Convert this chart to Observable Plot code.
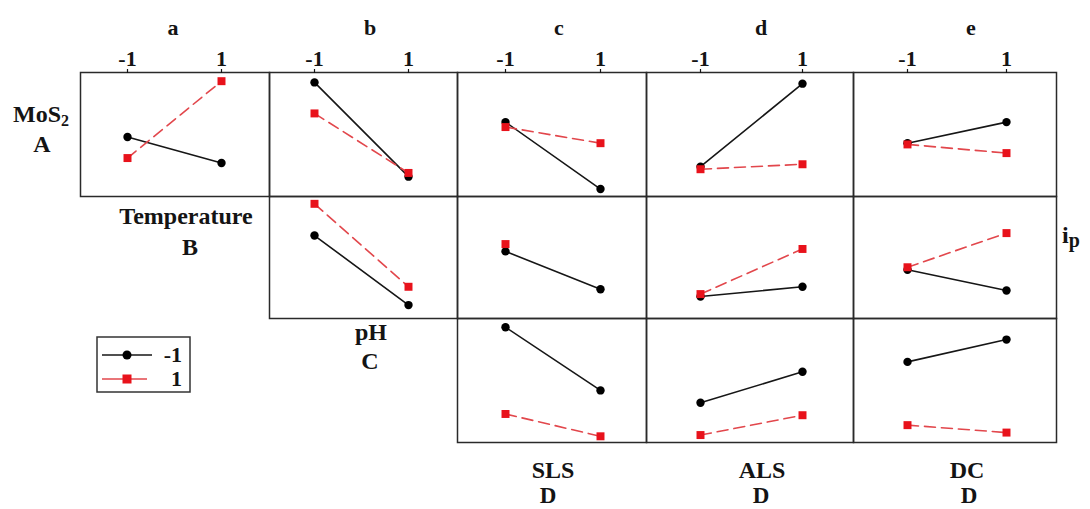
<!DOCTYPE html>
<html>
<head>
<meta charset="utf-8">
<script src="https://cdn.jsdelivr.net/npm/d3@7"></script>
<script src="https://cdn.jsdelivr.net/npm/@observablehq/plot@0.6"></script>
<style>
  html, body { margin: 0; padding: 0; background: #fff; }
  #chart { position: relative; width: 1090px; height: 509px; overflow: hidden; }
  #chart text { font-family: "Liberation Serif", "Times New Roman", serif; font-weight: bold; fill: #141414; }
</style>
</head>
<body>
<div id="chart"></div>
<script>
// Interaction plot matrix for the peak current ip.
// Each panel: x = factor level (-1, 1), one line per level of the row factor.

const factorLevels = [-1, 1];
const lineLevels = ["-1", "1"];

// Panel order: row factor (A, B, C) by column (a..e)
const panelRow = ["A", "A", "A", "A", "A", "B", "B", "B", "B", "C", "C", "C"];
const panelCol = ["a", "b", "c", "d", "e", "b", "c", "d", "e", "c", "d", "e"];

// Mean ip at x = -1 and x = 1, row factor held at -1
const lowLevelMeans = [
  [4.8, 2.7], [9.2, 1.6], [6.0, 0.6], [2.4, 9.1], [4.3, 6.0],
  [6.8, 1.1], [5.5, 2.4], [1.8, 2.6], [4.0, 2.3],
  [9.3, 4.2], [3.2, 5.7], [6.5, 8.3]
];
// Mean ip at x = -1 and x = 1, row factor held at 1
const highLevelMeans = [
  [3.1, 9.3], [6.7, 1.9], [5.6, 4.3], [2.2, 2.6], [4.2, 3.5],
  [9.4, 2.6], [6.1, null], [2.0, 5.7], [4.2, 7.0],
  [2.3, 0.5], [0.6, 2.2], [1.4, 0.8]
];

const columnTitles = ["a", "b", "c", "d", "e"];
const rowTitles = [["MoS", "2", "A"], ["Temperature", "", "B"], ["pH", "", "C"]];
const bottomTitles = [["SLS", "D"], ["ALS", "D"], ["DC", "D"]];
const responseName = ["i", "p"];

// Page geometry of the grid (pixels)
const colGeom = {
  a: {left: 80,  right: 269,  lo: 127, hi: 221},
  b: {left: 269, right: 457,  lo: 314, hi: 408},
  c: {left: 457, right: 646,  lo: 505, hi: 600},
  d: {left: 646, right: 853,  lo: 700, hi: 802},
  e: {left: 853, right: 1056, lo: 907, hi: 1006}
};
const rowGeom = {
  A: {top: 72,  bottom: 196},
  B: {top: 196, bottom: 318},
  C: {top: 318, bottom: 442}
};

const FONT = '"Liberation Serif", "Times New Roman", serif';
const BLACK = "#161616";
const RED_LINE = "#e2474c";
const RED_MARK = "#e8121b";

const chart = document.getElementById("chart");

panelRow.forEach((r, k) => {
  const c = panelCol[k];
  const cg = colGeom[c], rg = rowGeom[r];
  const w = cg.right - cg.left, h = rg.bottom - rg.top;
  const lowPts = factorLevels.map((x, i) => ({x, y: lowLevelMeans[k][i], level: lineLevels[0]}));
  const highPts = factorLevels.map((x, i) => ({x, y: highLevelMeans[k][i], level: lineLevels[1]}));
  const isTop = r === "A";
  const marks = [
    Plot.frame({stroke: "#2a2a2a", strokeWidth: 1.5}),
    Plot.line(lowPts, {x: "x", y: "y", stroke: BLACK, strokeWidth: 1.6}),
    Plot.dot(lowPts, {x: "x", y: "y", r: 4.2, fill: "#000", stroke: "none"}),
    Plot.line(highPts, {x: "x", y: "y", stroke: RED_LINE, strokeWidth: 1.6, strokeDasharray: "11,6"}),
    Plot.dot(highPts, {x: "x", y: "y", symbol: "square", r: 4.5, fill: RED_MARK, stroke: "none"})
  ];
  if (isTop) {
    marks.push(Plot.axisX({
      anchor: "top", ticks: factorLevels, tickSize: 4, tickPadding: 3,
      tickFormat: d => String(d), label: null,
      fontSize: 22, fontWeight: "bold", fontFamily: FONT, color: "#141414", strokeWidth: 1.2
    }));
  }
  const svg = Plot.plot({
    width: w, height: h,
    marginTop: 0, marginRight: 0, marginBottom: 0, marginLeft: 0,
    x: {domain: [-1, 1], range: [cg.lo - cg.left, cg.hi - cg.left], ...(isTop ? {} : {axis: null})},
    y: {domain: [0, 10], range: [h, 0], axis: null},
    marks
  });
  Object.assign(svg.style, {
    position: "absolute", left: cg.left + "px", top: rg.top + "px",
    overflow: "visible", background: "transparent", maxWidth: "none"
  });
  chart.appendChild(svg);
});

// Titles and legend
const NS = "http://www.w3.org/2000/svg";
const overlay = document.createElementNS(NS, "svg");
overlay.setAttribute("width", 1090);
overlay.setAttribute("height", 509);
Object.assign(overlay.style, {position: "absolute", left: "0px", top: "0px", overflow: "visible"});
chart.appendChild(overlay);

function addText(x, y, str, size, anchor = "middle") {
  const t = document.createElementNS(NS, "text");
  t.setAttribute("x", x);
  t.setAttribute("y", y);
  t.setAttribute("text-anchor", anchor);
  t.setAttribute("font-size", size);
  t.textContent = str;
  overlay.appendChild(t);
  return t;
}
function addSub(t, sub, size) {
  if (!sub) return;
  const s = document.createElementNS(NS, "tspan");
  s.setAttribute("font-size", size);
  s.setAttribute("dy", 4);
  s.textContent = sub;
  t.appendChild(s);
}

const colTitleX = [173, 370, 559, 761, 971];
columnTitles.forEach((s, i) => addText(colTitleX[i], 35, s, 22));

const rowTitlePos = [[41, 122, 42, 152], [186, 224, 190, 255], [371, 340, 370, 369]];
rowTitles.forEach(([name, sub, letter], i) => {
  const [x1, y1, x2, y2] = rowTitlePos[i];
  const t = addText(x1, y1, name, 24);
  addSub(t, sub, 16);
  addText(x2, y2, letter, 24);
});

const bottomX = [[553, 548], [762, 761], [967, 969]];
bottomTitles.forEach(([name, letter], i) => {
  addText(bottomX[i][0], 478, name, 24);
  addText(bottomX[i][1], 503, letter, 23);
});

const ip = addText(1062, 243, responseName[0], 24, "start");
addSub(ip, responseName[1], 20);

// Legend box
const legend = document.createElementNS(NS, "g");
overlay.appendChild(legend);
const box = document.createElementNS(NS, "rect");
Object.entries({x: 97, y: 337, width: 93, height: 55, fill: "#fff", stroke: "#333", "stroke-width": 1.5})
  .forEach(([k, v]) => box.setAttribute(k, v));
legend.appendChild(box);
lineLevels.forEach((lv, i) => {
  const y = 355 + i * 24;
  const ln = document.createElementNS(NS, "line");
  const isLow = i === 0;
  Object.entries({x1: 102, x2: isLow ? 152 : 147, y1: y, y2: y,
    stroke: isLow ? BLACK : RED_LINE, "stroke-width": 1.6})
    .forEach(([k, v]) => ln.setAttribute(k, v));
  legend.appendChild(ln);
  if (isLow) {
    const c = document.createElementNS(NS, "circle");
    Object.entries({cx: 127, cy: y, r: 4.5, fill: "#000"}).forEach(([k, v]) => c.setAttribute(k, v));
    legend.appendChild(c);
  } else {
    const s = document.createElementNS(NS, "rect");
    Object.entries({x: 122.5, y: y - 4.5, width: 9, height: 9, fill: RED_MARK}).forEach(([k, v]) => s.setAttribute(k, v));
    legend.appendChild(s);
  }
  const t = addText(182, y + 7, lv, 22, "end");
  legend.appendChild(t);
});
</script>
</body>
</html>
